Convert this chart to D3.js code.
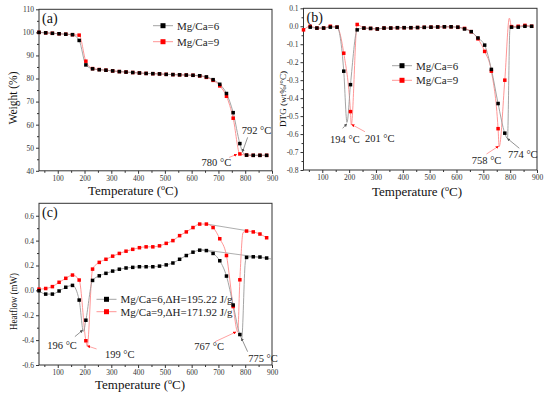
<!DOCTYPE html>
<html>
<head>
<meta charset="utf-8">
<script src="https://cdn.jsdelivr.net/npm/d3@7"></script>
<style>
  body { margin: 0; background: #fff; }
  svg { display: block; }
  text { font-family: "Liberation Serif", "Times New Roman", serif; }
</style>
</head>
<body>
<svg id="chart" width="550" height="397"></svg>
<script>
// sample temperatures (markers every 25 °C)
const temps = [30, 55, 80, 105, 130, 155, 180, 205, 230, 255, 280, 305, 330, 355, 380, 405, 430,
  455, 480, 505, 530, 555, 580, 605, 630, 655, 680, 705, 730, 755, 780, 805, 830, 855, 880]

// (a) TG, weight %
const tga6 = [100.0, 99.8, 99.6, 99.4, 99.2, 99.0, 96.5, 85.9, 84.2, 83.8, 83.6, 83.3, 83.0, 82.8, 82.6,
  82.4, 82.2, 82.1, 82.0, 81.8, 81.7, 81.6, 81.5, 81.4, 81.2, 80.7, 79.5, 77.5, 73.5, 65.2, 51.8,
  46.8, 46.7, 46.7, 46.7]
const tga9 = [100.0, 99.8, 99.6, 99.4, 99.2, 99.0, 98.8, 87.5, 84.3, 83.9, 83.6, 83.3, 83.0, 82.8, 82.6,
  82.4, 82.2, 82.1, 82.0, 81.8, 81.7, 81.6, 81.5, 81.4, 81.1, 80.5, 79.2, 76.8, 72.3, 62.8, 47.3,
  46.8, 46.7, 46.7, 46.7]
const tga6Extra = [[792, 47.8]]
const tga9Extra = []

// (b) DTG, wt%/°C
const dtg6 = [null, -0.005, -0.01, -0.01, -0.005, -0.005, -0.25, -0.325, -0.02, -0.01, -0.012, -0.015,
  -0.01, -0.01, -0.008, -0.008, -0.008, -0.007, -0.006, -0.005, -0.004, -0.003, -0.003, -0.005,
  -0.015, -0.03, -0.065, -0.105, -0.24, -0.43, -0.595, -0.005, -0.005, 0.0, 0.0]
const dtg9 = [-0.02, 0.0, -0.01, -0.01, 0.0, -0.005, -0.15, -0.475, 0.01, -0.01, -0.012, -0.015,
  -0.01, -0.01, -0.008, -0.008, -0.008, -0.007, -0.006, -0.005, -0.004, -0.003, -0.003, -0.006,
  -0.012, -0.03, -0.07, -0.14, -0.25, -0.57, -0.30, -0.002, 0.0, 0.005, 0.0]
const dtg6Extra = [[192, -0.535], [790, -0.625], [799, -0.02]]
const dtg9Extra = [[208, -0.55], [759, -0.67], [797, 0.045]]

// (c) DSC, heat flow mW
const dsc6 = [-0.003, -0.03, -0.03, -0.005, 0.025, 0.04, -0.078, -0.24, 0.08, 0.117, 0.137, 0.155,
  0.17, 0.18, 0.185, 0.19, 0.19, 0.19, 0.195, 0.205, 0.22, 0.25, 0.28, 0.307, 0.323, 0.32, 0.297,
  0.238, 0.115, -0.118, -0.355, 0.265, 0.27, 0.268, 0.26]
const dsc9 = [0.01, 0.015, 0.03, 0.065, 0.097, 0.123, 0.083, -0.405, 0.171, 0.225, 0.25, 0.275,
  0.297, 0.315, 0.33, 0.343, 0.35, 0.35, 0.358, 0.378, 0.40, 0.44, 0.47, 0.505, 0.533, 0.533, 0.505,
  0.415, 0.28, -0.13, 0.085, 0.477, 0.47, 0.453, 0.423]
const dsc6Extra = [[196, -0.33], [787, -0.385], [800, 0.22]]
const dsc9Extra = [[210, -0.45], [772, -0.335], [792, 0.465]]
const dsc6Base = [[630, 0.33], [900, 0.252]]
const dsc9Base = [[656, 0.533], [809, 0.479]]

const xTicks = [100, 200, 300, 400, 500, 600, 700, 800, 900]
const legendA = ['Mg/Ca=6', 'Mg/Ca=9']
const legendC = ['Mg/Ca=6,\u0394H=195.22 J/g', 'Mg/Ca=9,\u0394H=171.92 J/g']

// peak labels: label anchor, pointer start, pointer tip (data units)
const notesA = [
  { t: '792 \u00b0C', lx: 787, ly: 56, x1: 809, y1: 54.5, x2: 790, y2: 48.3, c: 'k' },
  { t: '780 \u00b0C', lx: 637, ly: 42.1, x1: 740, y1: 45.8, x2: 768, y2: 47.1, c: 'r' }
]
const notesB = [
  { t: '194 \u00b0C', lx: 129, ly: -0.65, x1: 176, y1: -0.568, x2: 191, y2: -0.544, c: 'k' },
  { t: '201 \u00b0C', lx: 259, ly: -0.642, x1: 259, y1: -0.587, x2: 210, y2: -0.547, c: 'r' },
  { t: '758 \u00b0C', lx: 657, ly: -0.766, x1: 712, y1: -0.711, x2: 756, y2: -0.668, c: 'r' },
  { t: '774 \u00b0C', lx: 792, ly: -0.735, x1: 834, y1: -0.679, x2: 790, y2: -0.625, c: 'k' }
]
const notesC = [
  { t: '196 \u00b0C', lx: 61, ly: -0.471, x1: 164, y1: -0.372, x2: 193, y2: -0.32, c: 'k' },
  { t: '199 \u00b0C', lx: 276, ly: -0.546, x1: 245, y1: -0.471, x2: 211, y2: -0.447, c: 'r' },
  { t: '767 \u00b0C', lx: 610, ly: -0.479, x1: 687, y1: -0.413, x2: 765, y2: -0.335, c: 'r' },
  { t: '775 \u00b0C', lx: 811, ly: -0.573, x1: 809, y1: -0.493, x2: 786, y2: -0.385, c: 'k' }
]

const BLACK = '#000', RED = '#ff0000'
const BLINE = '#9a9a9a', RLINE = '#ff8a8a'

const svg = d3.select('#chart')

const defs = svg.append('defs')
;[['k', '#555'], ['r', RED]].forEach(([id, col]) => {
  defs.append('marker')
    .attr('id', 'arr-' + id)
    .attr('viewBox', '0 0 6 6')
    .attr('refX', 5).attr('refY', 3)
    .attr('markerWidth', 4).attr('markerHeight', 4)
    .attr('orient', 'auto')
    .append('path').attr('d', 'M0,0L6,3L0,6Z').attr('fill', col)
})

function series(vals, extra) {
  return temps.map((t, i) => [t, vals[i]])
    .filter(d => d[1] !== null)
    .concat(extra)
    .sort((a, b) => a[0] - b[0])
}

function drawPanel(p) {
  const g = svg.append('g')
  const x = d3.scaleLinear().domain([30, 900]).range([p.left, p.right])
  const y = d3.scaleLinear().domain(p.yDomain).range([p.bottom, p.top])

  // axes (outward ticks, Origin style)
  const xa = g.append('g').attr('transform', `translate(0,${p.bottom})`)
    .call(d3.axisBottom(x).tickValues(xTicks).tickSize(3).tickPadding(1.5).tickFormat(d3.format('d')))
  const xm = g.append('g').attr('transform', `translate(0,${p.bottom})`)
    .call(d3.axisBottom(x).tickValues([50, 150, 250, 350, 450, 550, 650, 750, 850]).tickSize(2).tickFormat(''))
  const ya = g.append('g').attr('transform', `translate(${p.left},0)`)
    .call(d3.axisLeft(y).tickValues(p.yTicks).tickSize(3).tickPadding(2).tickFormat(p.fmt))
  const ym = g.append('g').attr('transform', `translate(${p.left},0)`)
    .call(d3.axisLeft(y).tickValues(p.yMinor).tickSize(2).tickFormat(''))
  ;[xa, xm, ya, ym].forEach(a => {
    a.select('.domain').remove()
    a.selectAll('line').attr('stroke', '#333')
    a.selectAll('text').attr('font-size', 7.5).attr('fill', '#333')
      .style('font-family', '"Liberation Serif", serif')
  })

  // frame
  g.append('rect')
    .attr('x', p.left).attr('y', p.top)
    .attr('width', p.right - p.left).attr('height', p.bottom - p.top)
    .attr('fill', 'none').attr('stroke', '#333').attr('stroke-width', 1)

  const line = d3.line().x(d => x(d[0])).y(d => y(d[1])).curve(d3.curveMonotoneX)

  // baselines (c only)
  ;(p.bases || []).forEach(b => {
    g.append('path').attr('d', d3.line().x(d => x(d[0])).y(d => y(d[1]))(b))
      .attr('fill', 'none').attr('stroke', '#999').attr('stroke-width', 0.8)
  })

  g.append('path').attr('d', line(series(p.red, p.redExtra)))
    .attr('fill', 'none').attr('stroke', RLINE).attr('stroke-width', 0.9)
  g.append('path').attr('d', line(series(p.black, p.blackExtra)))
    .attr('fill', 'none').attr('stroke', BLINE).attr('stroke-width', 0.9)

  const ms = 3.5
  ;[[p.red, RED], [p.black, BLACK]].forEach(([vals, col]) => {
    g.selectAll(null)
      .data(temps.map((t, i) => [t, vals[i]]).filter(d => d[1] !== null))
      .enter().append('rect')
      .attr('x', d => x(d[0]) - ms / 2)
      .attr('y', d => y(d[1]) - ms / 2)
      .attr('width', ms).attr('height', ms)
      .attr('fill', col)
  })

  // peak labels
  p.notes.forEach(n => {
    g.append('line')
      .attr('x1', x(n.x1)).attr('y1', y(n.y1))
      .attr('x2', x(n.x2)).attr('y2', y(n.y2))
      .attr('stroke', n.c === 'r' ? RLINE : '#777').attr('stroke-width', 0.8)
      .attr('marker-end', `url(#arr-${n.c})`)
    g.append('text').attr('x', x(n.lx)).attr('y', y(n.ly))
      .attr('font-size', 10.5).attr('fill', '#222').text(n.t)
  })

  // legend
  const lg = p.legend
  lg.items.forEach((txt, i) => {
    const yy = lg.y + i * lg.dy
    const lc = i === 0 ? BLINE : RLINE
    const mc = i === 0 ? BLACK : RED
    g.append('line').attr('x1', lg.x).attr('x2', lg.x + 20).attr('y1', yy).attr('y2', yy)
      .attr('stroke', lc).attr('stroke-width', 0.9)
    g.append('rect').attr('x', lg.x + 10 - 2.5).attr('y', yy - 2.5).attr('width', 5).attr('height', 5)
      .attr('fill', mc)
    g.append('text').attr('x', lg.x + 24).attr('y', yy + 3.8)
      .attr('font-size', 11).attr('fill', '#222').text(txt)
  })

  // panel letter
  g.append('text').attr('x', p.left + 3).attr('y', p.top + 14)
    .attr('font-size', 14).attr('fill', '#111').text(p.letter)

  // x title
  const xt = g.append('text').attr('x', p.xTitleX).attr('y', p.xTitleY)
    .attr('font-size', 13).attr('fill', '#111')
  xt.append('tspan').text('Temperature (')
  xt.append('tspan').attr('font-size', 8).attr('dy', -5).text('o')
  xt.append('tspan').attr('dy', 5).text('C)')

  // y title
  g.append('text')
    .attr('transform', `translate(${p.yTitleX},${p.yTitleY}) rotate(-90)`)
    .attr('text-anchor', 'middle')
    .attr('font-size', p.yTitleSize).attr('fill', '#111')
    .attr('textLength', p.yTitleLen).attr('lengthAdjust', 'spacingAndGlyphs')
    .text(p.yTitle)
}

drawPanel({
  left: 39, right: 272, top: 9.3, bottom: 170.8,
  yDomain: [40, 110], yTicks: [40, 50, 60, 70, 80, 90, 100, 110],
  yMinor: [45, 55, 65, 75, 85, 95, 105], fmt: d3.format('d'),
  black: tga6, red: tga9, blackExtra: tga6Extra, redExtra: tga9Extra,
  notes: notesA, legend: { x: 153, y: 25.7, dy: 16, items: legendA },
  letter: '(a)', xTitleX: 88, xTitleY: 195,
  yTitle: 'Weight (%)', yTitleX: 17, yTitleY: 98, yTitleSize: 12, yTitleLen: 53
})

drawPanel({
  left: 303.5, right: 537, top: 8.3, bottom: 170,
  yDomain: [-0.8, 0.1], yTicks: [0.1, 0, -0.1, -0.2, -0.3, -0.4, -0.5, -0.6, -0.7, -0.8],
  yMinor: [0.05, -0.05, -0.15, -0.25, -0.35, -0.45, -0.55, -0.65, -0.75], fmt: d => d.toFixed(1),
  black: dtg6, red: dtg9, blackExtra: dtg6Extra, redExtra: dtg9Extra,
  notes: notesB, legend: { x: 392, y: 65.7, dy: 14.6, items: legendA },
  letter: '(b)', xTitleX: 372, xTitleY: 196,
  yTitle: 'DTG (wt%/\u00b0C)', yTitleX: 286, yTitleY: 99, yTitleSize: 8, yTitleLen: 56
})

drawPanel({
  left: 39, right: 272, top: 203.3, bottom: 365,
  yDomain: [-0.6, 0.7], yTicks: [0.6, 0.4, 0.2, 0, -0.2, -0.4, -0.6],
  yMinor: [0.5, 0.3, 0.1, -0.1, -0.3, -0.5], fmt: d => d.toFixed(1),
  black: dsc6, red: dsc9, blackExtra: dsc6Extra, redExtra: dsc9Extra,
  bases: [dsc6Base, dsc9Base],
  notes: notesC, legend: { x: 96.5, y: 299.3, dy: 12.4, items: legendC },
  letter: '(c)', xTitleX: 95, xTitleY: 389,
  yTitle: 'Heatflow (mW)', yTitleX: 17, yTitleY: 301.5, yTitleSize: 11, yTitleLen: 57
})
</script>
</body>
</html>
